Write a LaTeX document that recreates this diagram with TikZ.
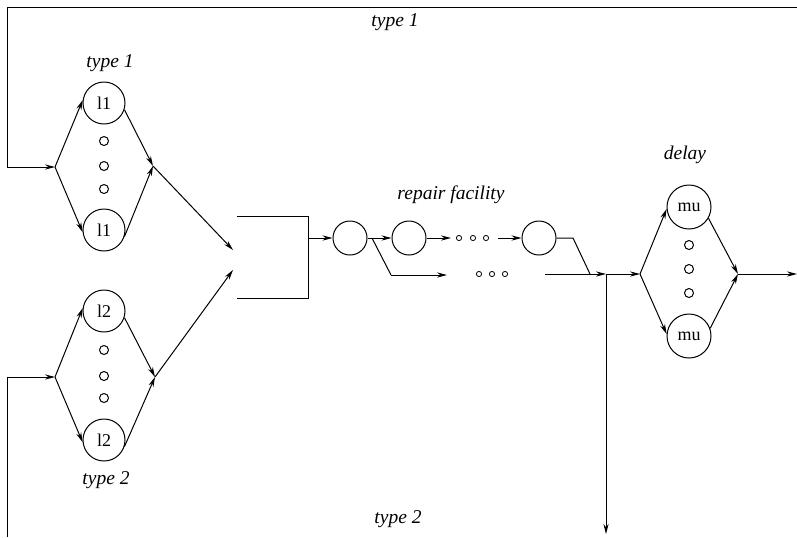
\documentclass[tikz,border=0pt]{standalone}
\usepackage{fontspec}
\setmainfont{Liberation Serif}
\usetikzlibrary{arrows.meta}
\tikzset{
  conn/.style={line width=0.5pt},
  arr/.style={conn,-{Stealth[length=5pt,width=2.6pt]}},
  srv/.style={draw,line width=0.5pt,circle,inner sep=0pt,minimum size=21pt,font=\fontsize{9pt}{10pt}\selectfont},
  rsrv/.style={draw,line width=0.5pt,circle,inner sep=0pt,minimum size=17pt},
  musrv/.style={draw,line width=0.5pt,circle,inner sep=0pt,minimum size=22pt,font=\fontsize{9pt}{10pt}\selectfont},
  dot/.style={draw,line width=0.5pt,circle,inner sep=0pt,minimum size=4.5pt},
  sdot/.style={draw,line width=0.4pt,circle,inner sep=0pt,minimum size=2.6pt},
  lbl/.style={inner sep=0pt,font=\fontsize{9.75pt}{11pt}\selectfont\itshape},
}
\begin{document}
\begin{tikzpicture}[x=0.5pt,y=-0.5pt]
\useasboundingbox (0,0) rectangle (797,537);
% labels
\node[lbl] (lt1top) at (395,22) {type 1};
\node[lbl] (lt1) at (110,63) {type 1};
\node[lbl] (lt2) at (106,480) {type 2};
\node[lbl] (lt2bot) at (398,519) {type 2};
\node[lbl] (lrep) at (451,195) {repair facility};
\node[lbl] (ldel) at (685,155) {delay};
% type 1 group
\node[srv] (a1) at (104,103) {l1};
\node[srv] (a2) at (104,230) {l1};
\node[dot] (ad1) at (104,141) {};
\node[dot] (ad2) at (104,166) {};
\node[dot] (ad3) at (104,189) {};
\coordinate (af) at (55,167);
\coordinate (aj) at (153,166);
% type 2 group
\node[srv] (b1) at (104,311) {l2};
\node[srv] (b2) at (104,440) {l2};
\node[dot] (bd1) at (104,350) {};
\node[dot] (bd2) at (104,376) {};
\node[dot] (bd3) at (104,398) {};
\coordinate (bf) at (55,377);
\coordinate (bj) at (155,377);
% feedback lines
\coordinate (tl0) at (7,167);
\coordinate (tl1) at (7,7);
\coordinate (tl2) at (797,7);
\coordinate (bl0) at (7,537);
\coordinate (bl1) at (7,377);
\draw[conn] (tl2) -- (tl1) -- (tl0);
\draw[arr] (tl0) -- (af);
\draw[conn] (bl0) -- (bl1);
\draw[arr] (bl1) -- (bf);
% forks and joins
\draw[arr] (af) -- (a1.172);
\draw[arr] (af) -- (a2.186);
\draw[arr] (a1.-18) -- (aj);
\draw[arr] (a2.-18) -- (aj);
\draw[arr] (bf) -- (b1.172);
\draw[arr] (bf) -- (b2.186);
\draw[arr] (b1.-18) -- (bj);
\draw[arr] (b2.-18) -- (bj);
% merge into bracket
\coordinate (m1) at (233,250);
\coordinate (m2) at (233,270);
\draw[arr] (aj) -- (m1);
\draw[arr] (bj) -- (m2);
\coordinate (k1) at (237,216);
\coordinate (k2) at (308,216);
\coordinate (k3) at (308,298);
\coordinate (k4) at (237,298);
\coordinate (k5) at (308,238);
\draw[conn] (k1) -- (k2) -- (k3) -- (k4);
% repair facility
\node[rsrv] (r1) at (350,238) {};
\node[rsrv] (r2) at (409,238) {};
\node[rsrv] (r3) at (539,238) {};
\draw[arr] (k5) -- (r1);
\draw[arr] (r1) -- (r2);
\coordinate (rb0) at (372,238);
\coordinate (rb1) at (391,275);
\coordinate (rb2) at (447,275);
\draw[conn] (rb0) -- (rb1);
\draw[arr] (rb1) -- (rb2);
\coordinate (ra1) at (451,238);
\draw[arr] (r2) -- (ra1);
\node[sdot] (s1) at (459,238) {};
\node[sdot] (s2) at (473,238) {};
\node[sdot] (s3) at (486,238) {};
\coordinate (ra2) at (498,238);
\draw[arr] (ra2) -- (r3);
\node[sdot] (t1) at (479,274) {};
\node[sdot] (t2) at (492,274) {};
\node[sdot] (t3) at (505,274) {};
\coordinate (rc0) at (545,274);
\coordinate (rc1) at (573,238);
\coordinate (rc2) at (590,274);
\coordinate (sp) at (606,274);
\draw[conn] (r3) -- (rc1) -- (rc2);
\draw[arr] (rc0) -- (sp);
\coordinate (down) at (606,534);
\draw[arr] (sp) -- (down);
% delay
\coordinate (df) at (640,274);
\coordinate (dj) at (738,274);
\coordinate (out) at (797,274);
\draw[arr] (sp) -- (df);
\node[musrv] (d1) at (689,207) {mu};
\node[musrv] (d2) at (689,336) {mu};
\node[dot] (dd1) at (689,245) {};
\node[dot] (dd2) at (689,269) {};
\node[dot] (dd3) at (689,293) {};
\draw[arr] (df) -- (d1.185);
\draw[arr] (df) -- (d2.175);
\draw[arr] (d1.-30) -- (dj);
\draw[arr] (d2.20) -- (dj);
\draw[arr] (dj) -- (out);
\end{tikzpicture}
\end{document}
